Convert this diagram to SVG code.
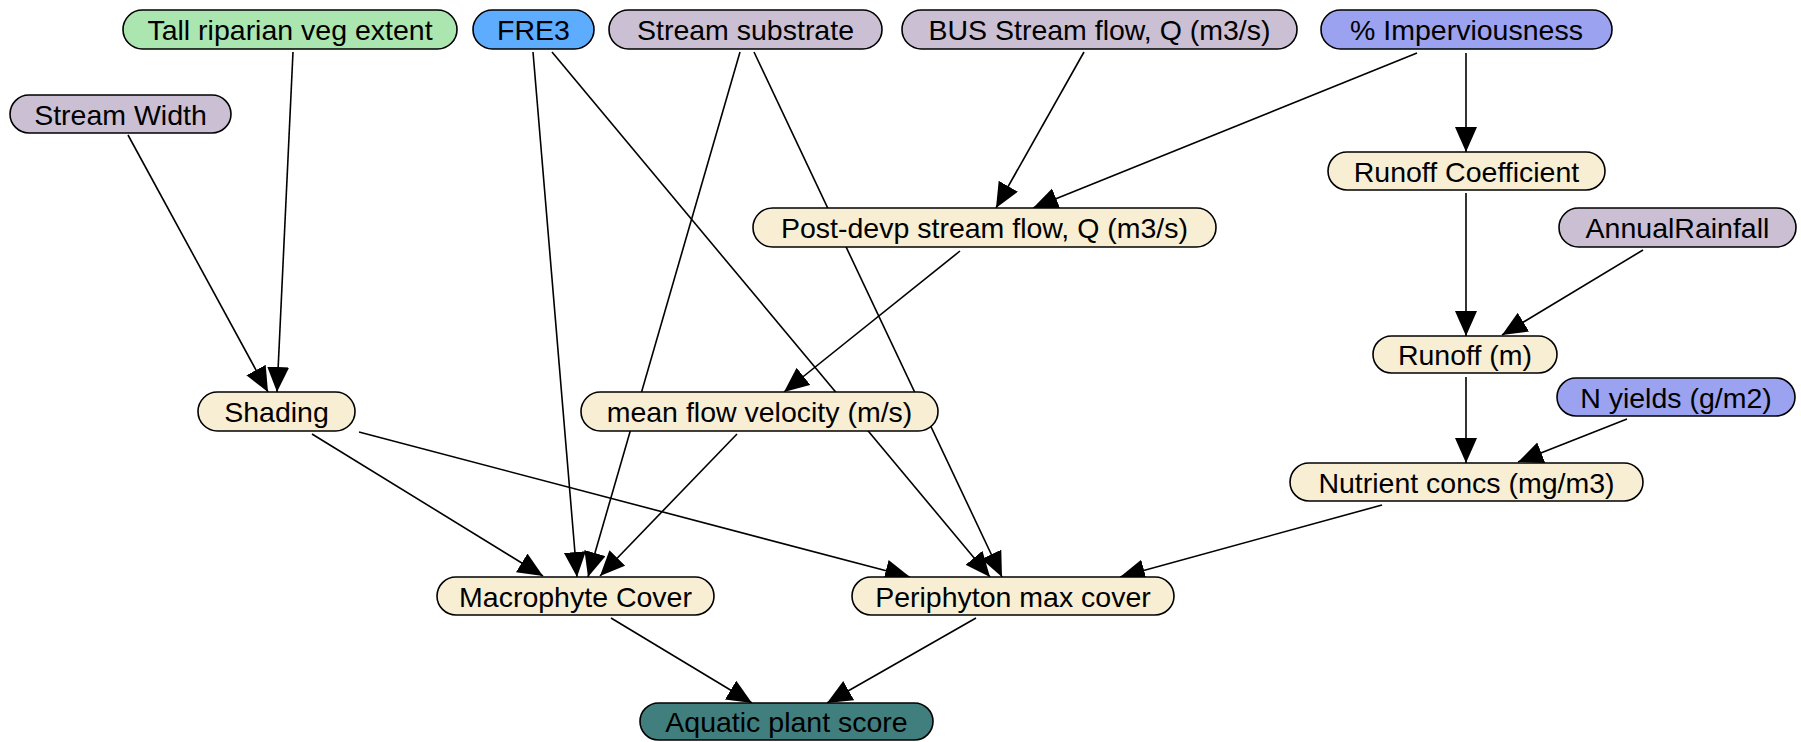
<svg xmlns="http://www.w3.org/2000/svg" width="1801" height="742" viewBox="0 0 1801 742">
<style>
.n{stroke:#000;stroke-width:1.6}
.t{font-family:"Liberation Sans",Arial,sans-serif;font-size:28.5px;fill:#000;text-anchor:middle}
.e{stroke:#000;stroke-width:1.6;fill:none;marker-end:url(#ah)}
.g{fill:#abe5b0}.b{fill:#5eacfd}.l{fill:#cbbfd3}.p{fill:#9ba2f0}.y{fill:#f8eed4}.k{fill:#407f7d}
</style>
<defs>
<marker id="ah" markerUnits="userSpaceOnUse" markerWidth="26" markerHeight="24" refX="25" refY="11" orient="auto">
<path d="M0,0 L25,11 L0,22 z" fill="#000"/>
</marker>
</defs>
<rect width="1801" height="742" fill="#fff"/>
<g id="connectors">
<line class="e" x1="128" y1="135" x2="268" y2="392"/>
<line class="e" x1="293" y1="52" x2="277" y2="392"/>
<line class="e" x1="533" y1="52" x2="577" y2="577"/>
<line class="e" x1="552" y1="52" x2="990" y2="577"/>
<line class="e" x1="740" y1="52" x2="588" y2="577"/>
<line class="e" x1="754" y1="52" x2="1002" y2="577"/>
<line class="e" x1="1084" y1="52" x2="996" y2="208"/>
<line class="e" x1="1417" y1="53" x2="1033" y2="208"/>
<line class="e" x1="1466" y1="53" x2="1466" y2="152"/>
<line class="e" x1="960" y1="251" x2="784" y2="392"/>
<line class="e" x1="1466" y1="193" x2="1466" y2="336"/>
<line class="e" x1="1643" y1="250" x2="1502" y2="335"/>
<line class="e" x1="1466" y1="377" x2="1466" y2="463"/>
<line class="e" x1="1627" y1="419" x2="1518" y2="462"/>
<line class="e" x1="1382" y1="505" x2="1120" y2="577"/>
<line class="e" x1="312" y1="434" x2="543" y2="576"/>
<line class="e" x1="359" y1="432" x2="910" y2="577"/>
<line class="e" x1="737" y1="434" x2="600" y2="576"/>
<line class="e" x1="611" y1="618" x2="752" y2="703"/>
<line class="e" x1="976" y1="618" x2="827" y2="703"/>
</g>
<g id="n_tall"><rect class="n g" x="123" y="10" width="334" height="39" rx="19.5"/><text class="t" x="290" y="39.5">Tall riparian veg extent</text></g>
<g id="n_fre3"><rect class="n b" x="473" y="10" width="121" height="39" rx="19.5"/><text class="t" x="533.5" y="39.5">FRE3</text></g>
<g id="n_substrate"><rect class="n l" x="609" y="10" width="273" height="39" rx="19.5"/><text class="t" x="745.5" y="39.5">Stream substrate</text></g>
<g id="n_bus"><rect class="n l" x="902" y="10" width="395" height="39" rx="19.5"/><text class="t" x="1099.5" y="39.5">BUS Stream flow, Q (m3/s)</text></g>
<g id="n_imperv"><rect class="n p" x="1321" y="10" width="291" height="39" rx="19.5"/><text class="t" x="1466.5" y="39.5">% Imperviousness</text></g>
<g id="n_width"><rect class="n l" x="10" y="95" width="221" height="38" rx="19"/><text class="t" x="120.5" y="124.5">Stream Width</text></g>
<g id="n_runoffcoef"><rect class="n y" x="1328" y="152" width="277" height="38" rx="19"/><text class="t" x="1466.5" y="181.5">Runoff Coefficient</text></g>
<g id="n_postdevp"><rect class="n y" x="753" y="208" width="463" height="39" rx="19.5"/><text class="t" x="984.5" y="237.5">Post-devp stream flow, Q (m3/s)</text></g>
<g id="n_rain"><rect class="n l" x="1559" y="208" width="237" height="39" rx="19.5"/><text class="t" x="1677.5" y="237.5">AnnualRainfall</text></g>
<g id="n_runoff"><rect class="n y" x="1373" y="336" width="184" height="37" rx="18.5"/><text class="t" x="1465" y="364.5">Runoff (m)</text></g>
<g id="n_nyields"><rect class="n p" x="1557" y="378" width="238" height="38" rx="19"/><text class="t" x="1676" y="407.5">N yields (g/m2)</text></g>
<g id="n_shading"><rect class="n y" x="198" y="392" width="157" height="39" rx="19.5"/><text class="t" x="276.5" y="421.5">Shading</text></g>
<g id="n_meanflow"><rect class="n y" x="581" y="392" width="357" height="39" rx="19.5"/><text class="t" x="759.5" y="421.5">mean flow velocity (m/s)</text></g>
<g id="n_nutrient"><rect class="n y" x="1290" y="463" width="353" height="38" rx="19"/><text class="t" x="1466.5" y="492.5">Nutrient concs (mg/m3)</text></g>
<g id="n_macro"><rect class="n y" x="437" y="577" width="277" height="38" rx="19"/><text class="t" x="575.5" y="606.5">Macrophyte Cover</text></g>
<g id="n_peri"><rect class="n y" x="852" y="577" width="322" height="38" rx="19"/><text class="t" x="1013" y="606.5">Periphyton max cover</text></g>
<g id="n_aquatic"><rect class="n k" x="640" y="703" width="293" height="37" rx="18.5"/><text class="t" x="786.5" y="731.5">Aquatic plant score</text></g>
</svg>
